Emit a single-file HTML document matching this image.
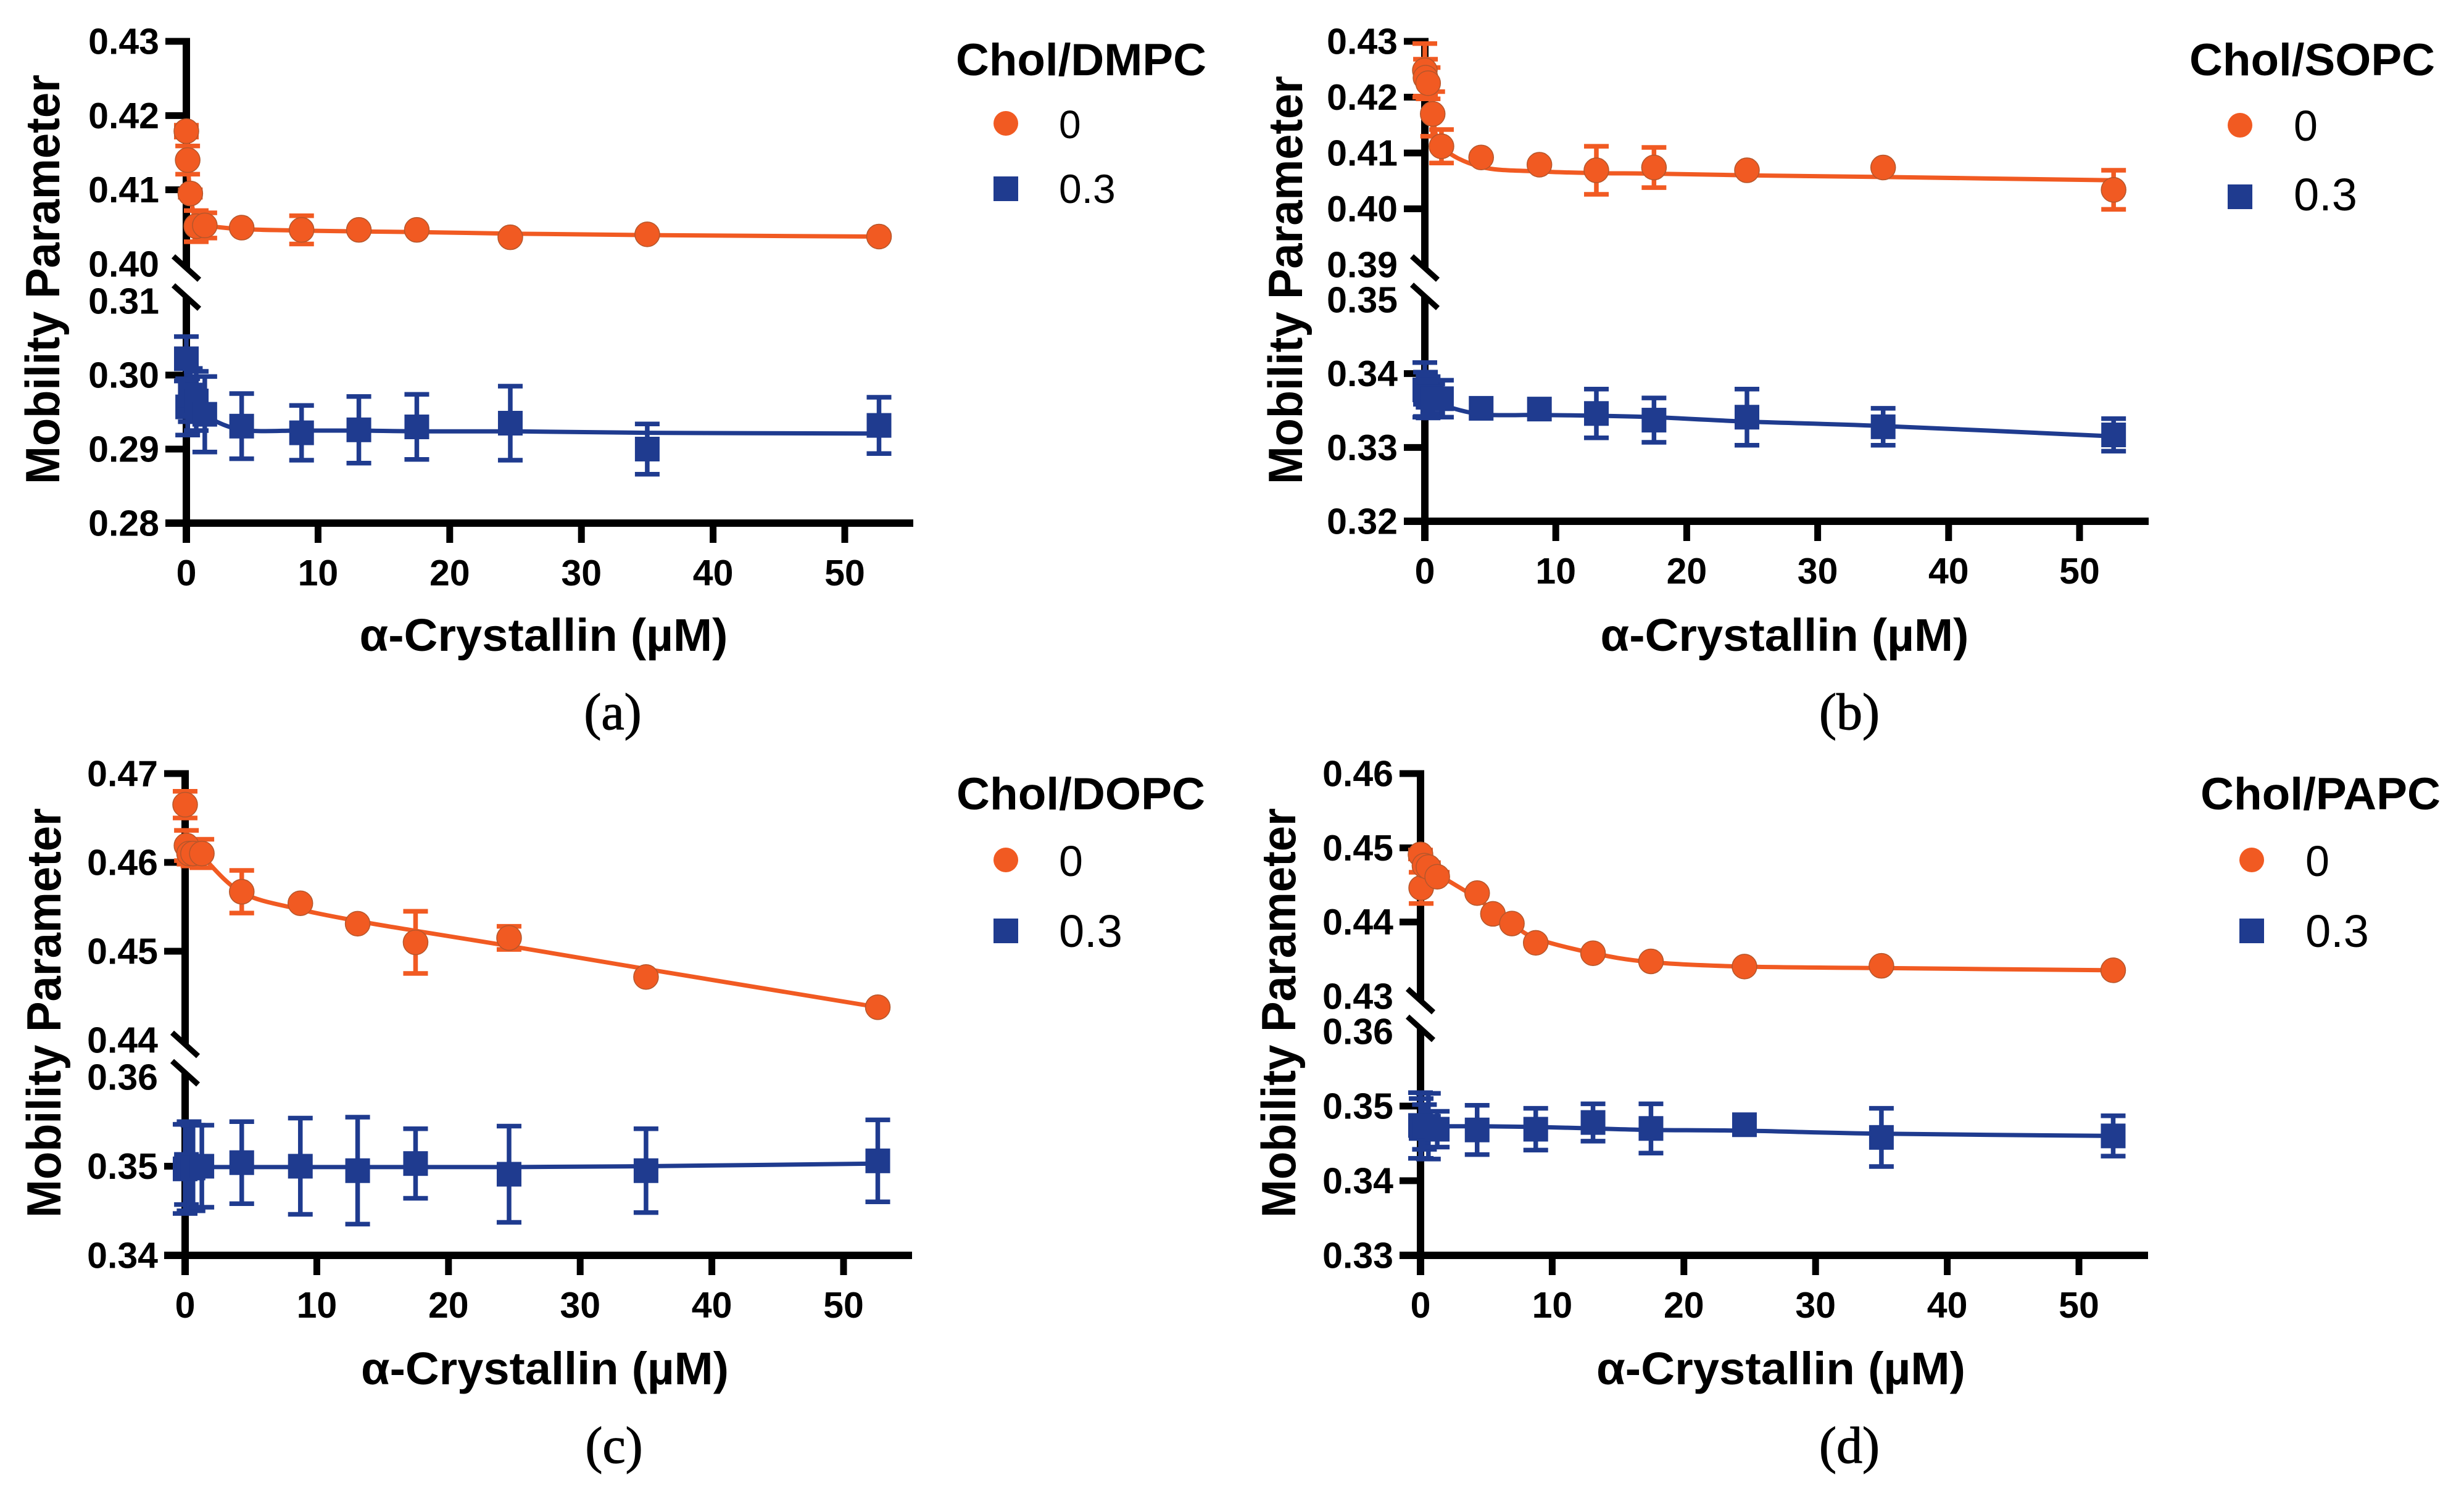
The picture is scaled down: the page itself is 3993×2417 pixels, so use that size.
<!DOCTYPE html>
<html lang="en">
<head>
<meta charset="utf-8">
<title>Mobility Parameter vs α-Crystallin</title>
<style>
html,body{margin:0;padding:0;background:#fff;}
body{width:3993px;height:2417px;overflow:hidden;}
svg{display:block;}
text{font-family:"Liberation Sans",Arial,sans-serif;fill:#000;}
.ytitle,.xtitle,.legtitle,.tick{font-weight:bold;}
.ytitle{font-size:78px;}
.xtitle{font-size:74px;}
.legtitle{font-size:73px;}
.tick{font-size:59px;}
.cap{font-family:"Liberation Serif",serif;font-size:84px;stroke:#000;stroke-width:1.2px;}
</style>
</head>
<body>
<svg id="figure" width="3993" height="2417" viewBox="0 0 3993 2417" xmlns="http://www.w3.org/2000/svg">
  <rect x="0" y="0" width="3993" height="2417" fill="#fff"/>

  <g id="static-text">
    <text class="ytitle" transform="translate(96,453) rotate(-90)" text-anchor="middle" textLength="664" lengthAdjust="spacingAndGlyphs">Mobility Parameter</text>
    <text class="ytitle" transform="translate(2110,454) rotate(-90)" text-anchor="middle" textLength="662" lengthAdjust="spacingAndGlyphs">Mobility Parameter</text>
    <text class="ytitle" transform="translate(98,1642) rotate(-90)" text-anchor="middle" textLength="664" lengthAdjust="spacingAndGlyphs">Mobility Parameter</text>
    <text class="ytitle" transform="translate(2099,1642) rotate(-90)" text-anchor="middle" textLength="664" lengthAdjust="spacingAndGlyphs">Mobility Parameter</text>

    <text class="xtitle" x="881" y="1055" text-anchor="middle" textLength="597" lengthAdjust="spacingAndGlyphs">α-Crystallin (µM)</text>
    <text class="xtitle" x="2892" y="1055" text-anchor="middle" textLength="597" lengthAdjust="spacingAndGlyphs">α-Crystallin (µM)</text>
    <text class="xtitle" x="883" y="2244" text-anchor="middle" textLength="596" lengthAdjust="spacingAndGlyphs">α-Crystallin (µM)</text>
    <text class="xtitle" x="2886" y="2244" text-anchor="middle" textLength="598" lengthAdjust="spacingAndGlyphs">α-Crystallin (µM)</text>

    <text class="legtitle" x="1549" y="122" textLength="406" lengthAdjust="spacingAndGlyphs">Chol/DMPC</text>
    <circle cx="1630" cy="200" r="20" fill="#F15A22"/>
    <text x="1716" y="224" font-size="64">0</text>
    <rect x="1610" y="286" width="40" height="40" fill="#1F3B8F"/>
    <text x="1716" y="329" font-size="66">0.3</text>

    <text class="legtitle" x="3548" y="122" textLength="398" lengthAdjust="spacingAndGlyphs">Chol/SOPC</text>
    <circle cx="3630" cy="203" r="20" fill="#F15A22"/>
    <text x="3717" y="228" font-size="70">0</text>
    <rect x="3610" y="299" width="40" height="40" fill="#1F3B8F"/>
    <text x="3717" y="341" font-size="74">0.3</text>

    <text class="legtitle" x="1550" y="1312" textLength="403" lengthAdjust="spacingAndGlyphs">Chol/DOPC</text>
    <circle cx="1630" cy="1394" r="20" fill="#F15A22"/>
    <text x="1716" y="1420" font-size="70">0</text>
    <rect x="1610" y="1489" width="40" height="40" fill="#1F3B8F"/>
    <text x="1716" y="1535" font-size="74">0.3</text>

    <text class="legtitle" x="3566" y="1312" textLength="389" lengthAdjust="spacingAndGlyphs">Chol/PAPC</text>
    <circle cx="3649" cy="1394" r="20" fill="#F15A22"/>
    <text x="3736" y="1420" font-size="70">0</text>
    <rect x="3629" y="1489" width="40" height="40" fill="#1F3B8F"/>
    <text x="3736" y="1535" font-size="74">0.3</text>

    <text class="cap" x="993" y="1182" text-anchor="middle">(a)</text>
    <text class="cap" x="2997" y="1182" text-anchor="middle">(b)</text>
    <text class="cap" x="995" y="2371" text-anchor="middle">(c)</text>
    <text class="cap" x="2997" y="2371" text-anchor="middle">(d)</text>
  </g>
</svg>

<script>
// ---- shared category data ----
const xTickLabels = ['0', '10', '20', '30', '40', '50'];
const concA = [0, 0.1, 0.3, 0.75, 1.4, 4.2, 8.75, 13.1, 17.5, 24.6, 35, 52.6];
const concB = [0, 0.05, 0.25, 0.6, 1.27, 4.3, 8.75, 13.1, 17.5, 24.6, 35, 52.6];
const concC = [0, 0.1, 0.3, 0.6, 1.27, 4.3, 8.75, 13.1, 17.5, 24.6, 35, 52.6];
const concD = [0, 0.05, 0.3, 0.6, 1.27, 4.3, 8.75, 13.1, 17.5, 24.6, 35, 52.6];
const concDZero = [0, 0.05, 0.3, 0.6, 1.27, 4.3, 5.5, 6.94, 8.75, 13.1, 17.5, 24.6, 35, 52.6];

// ---- panel a: Chol/DMPC ----
const dmpcUpperTicks = ['0.40', '0.41', '0.42', '0.43'];
const dmpcLowerTicks = ['0.28', '0.29', '0.30', '0.31'];
const dmpcZeroY = [0.4179, 0.4140, 0.4095, 0.4051, 0.4052, 0.4049, 0.4046, 0.4046, 0.4046, 0.4036, 0.4040, 0.4037];
const dmpcZeroErr = [0.0008, 0.0019, 0.0005, 0.0021, 0.0017, 0, 0.0019, 0, 0, 0, 0, 0];
const dmpcZeroFit = [0.4179, 0.4140, 0.4095, 0.4056, 0.4052, 0.4047, 0.4045, 0.4044, 0.4043, 0.4041, 0.4039, 0.4037];
const dmpcCholY = [0.3022, 0.2957, 0.2973, 0.2965, 0.2947, 0.2931, 0.2922, 0.2926, 0.2930, 0.2935, 0.2900, 0.2932];
const dmpcCholErr = [0.0030, 0.0038, 0.0036, 0.0040, 0.0051, 0.0044, 0.0037, 0.0045, 0.0044, 0.0050, 0.0034, 0.0038];
const dmpcCholFit = [0.2985, 0.2975, 0.2965, 0.2955, 0.2945, 0.2926, 0.2925, 0.2925, 0.2924, 0.2924, 0.2922, 0.2921];

// ---- panel b: Chol/SOPC ----
const sopcUpperTicks = ['0.39', '0.40', '0.41', '0.42', '0.43'];
const sopcLowerTicks = ['0.32', '0.33', '0.34', '0.35'];
const sopcZeroY = [0.4248, 0.4235, 0.4225, 0.4170, 0.4112, 0.4092, 0.4079, 0.4069, 0.4074, 0.4069, 0.4074, 0.4034];
const sopcZeroErr = [0.0048, 0.0033, 0.0028, 0.0040, 0.0030, 0, 0, 0.0043, 0.0036, 0, 0, 0.0035];
const sopcZeroFit = [0.4250, 0.4238, 0.4225, 0.4172, 0.4112, 0.4075, 0.4067, 0.4064, 0.4063, 0.4060, 0.4057, 0.4051];
const sopcCholY = [0.3378, 0.3372, 0.3368, 0.3366, 0.3366, 0.3353, 0.3352, 0.3346, 0.3337, 0.3341, 0.3328, 0.3317];
const sopcCholErr = [0.0037, 0.0030, 0.0028, 0.0020, 0.0025, 0, 0, 0.0033, 0.0030, 0.0038, 0.0025, 0.0022];
const sopcCholFit = [0.3378, 0.3374, 0.3370, 0.3366, 0.3358, 0.3345, 0.3344, 0.3343, 0.3341, 0.3335, 0.3329, 0.3315];

// ---- panel c: Chol/DOPC ----
const dopcUpperTicks = ['0.44', '0.45', '0.46', '0.47'];
const dopcLowerTicks = ['0.34', '0.35', '0.36'];
const dopcZeroY = [0.4665, 0.4619, 0.4610, 0.4610, 0.4610, 0.4567, 0.4554, 0.4531, 0.4510, 0.4515, 0.4471, 0.4437];
const dopcZeroErr = [0.0015, 0.0017, 0.0012, 0.0014, 0.0016, 0.0024, 0, 0, 0.0035, 0.0013, 0, 0];
const dopcZeroFit = [0.4625, 0.4622, 0.4618, 0.4613, 0.4607, 0.4566, 0.4547, 0.4534, 0.4523, 0.4506, 0.4480, 0.4437];
const dopcCholY = [0.3497, 0.3502, 0.3500, 0.3498, 0.3500, 0.3504, 0.3500, 0.3495, 0.3503, 0.3491, 0.3495, 0.3506];
const dopcCholErr = [0.0050, 0.0045, 0.0050, 0.0048, 0.0046, 0.0046, 0.0054, 0.0060, 0.0039, 0.0054, 0.0047, 0.0046];
const dopcCholFit = [0.3499, 0.3499, 0.3499, 0.3499, 0.3499, 0.3499, 0.3499, 0.3499, 0.3499, 0.3499, 0.3500, 0.3503];

// ---- panel d: Chol/PAPC ----
const papcUpperTicks = ['0.43', '0.44', '0.45', '0.46'];
const papcLowerTicks = ['0.33', '0.34', '0.35', '0.36'];
const papcZeroY = [0.4491, 0.4446, 0.4476, 0.4474, 0.4461, 0.4439, 0.4411, 0.4398, 0.4372, 0.4358, 0.4347, 0.4340, 0.4341, 0.4335];
const papcZeroErr = [0.0006, 0.0021, 0.0008, 0.0006, 0.0006, 0, 0, 0, 0, 0, 0, 0, 0, 0];
const papcZeroFit = [0.4492, 0.4490, 0.4484, 0.4477, 0.4465, 0.4432, 0.4415, 0.4398, 0.4378, 0.4358, 0.4346, 0.4340, 0.4338, 0.4335];
const papcCholY = [0.3474, 0.3470, 0.3472, 0.3473, 0.3469, 0.3468, 0.3469, 0.3478, 0.3470, 0.3475, 0.3458, 0.3460];
const papcCholErr = [0.0044, 0.0040, 0.0030, 0.0044, 0.0024, 0.0033, 0.0028, 0.0025, 0.0033, 0, 0.0039, 0.0027];
const papcCholFit = [0.3474, 0.3474, 0.3473, 0.3473, 0.3473, 0.3473, 0.3472, 0.3470, 0.3468, 0.3467, 0.3463, 0.3460];

// ---- panel layout (axis anchors only; no data) ----
const panels = [
  {id: 'a', x0: 302, unit: 21.34, xEnd: 1480, base: 848, topY: 67, upperLowY: 428, lowerTopY: 488,
   breakUp: 434.5, breakLo: 481.5,
   upper: dmpcUpperTicks, lower: dmpcLowerTicks,
   zeroX: concA, zeroY: dmpcZeroY, zeroErr: dmpcZeroErr, zeroFit: dmpcZeroFit,
   cholX: concA, cholY: dmpcCholY, cholErr: dmpcCholErr, cholFit: dmpcCholFit},
  {id: 'b', x0: 2309, unit: 21.22, xEnd: 3482, base: 845, topY: 67, upperLowY: 429, lowerTopY: 486,
   breakUp: 434.5, breakLo: 480.5,
   upper: sopcUpperTicks, lower: sopcLowerTicks,
   zeroX: concB, zeroY: sopcZeroY, zeroErr: sopcZeroErr, zeroFit: sopcZeroFit,
   cholX: concB, cholY: sopcCholY, cholErr: sopcCholErr, cholFit: sopcCholFit},
  {id: 'c', x0: 300, unit: 21.34, xEnd: 1478, base: 2035, topY: 1254, upperLowY: 1686, lowerTopY: 1746,
   breakUp: 1693, breakLo: 1739,
   upper: dopcUpperTicks, lower: dopcLowerTicks,
   zeroX: concC, zeroY: dopcZeroY, zeroErr: dopcZeroErr, zeroFit: dopcZeroFit,
   cholX: concC, cholY: dopcCholY, cholErr: dopcCholErr, cholFit: dopcCholFit},
  {id: 'd', x0: 2302, unit: 21.34, xEnd: 3481, base: 2035, topY: 1254, upperLowY: 1615, lowerTopY: 1672,
   breakUp: 1622, breakLo: 1667,
   upper: papcUpperTicks, lower: papcLowerTicks,
   zeroX: concDZero, zeroY: papcZeroY, zeroErr: papcZeroErr, zeroFit: papcZeroFit,
   cholX: concD, cholY: papcCholY, cholErr: papcCholErr, cholFit: papcCholFit}
];

const SVGNS = 'http://www.w3.org/2000/svg';
const svgRoot = document.getElementById('figure');
const COLOR_ZERO = '#F15A22';
const COLOR_CHOL = '#1F3B8F';

function make(parent, tag, attrs) {
  const el = document.createElementNS(SVGNS, tag);
  for (const k in attrs) el.setAttribute(k, attrs[k]);
  parent.appendChild(el);
  return el;
}
function linearScale(d0, d1, r0, r1) {
  return v => r0 + (v - d0) * (r1 - r0) / (d1 - d0);
}
function smoothPath(px, py) {
  let d = 'M' + px[0].toFixed(1) + ' ' + py[0].toFixed(1);
  for (let i = 0; i < px.length - 1; i++) {
    const p0x = px[Math.max(i - 1, 0)], p0y = py[Math.max(i - 1, 0)];
    const p1x = px[i], p1y = py[i], p2x = px[i + 1], p2y = py[i + 1];
    const p3x = px[Math.min(i + 2, px.length - 1)], p3y = py[Math.min(i + 2, px.length - 1)];
    const c1x = p1x + (p2x - p0x) / 6, c1y = p1y + (p2y - p0y) / 6;
    const c2x = p2x - (p3x - p1x) / 6, c2y = p2y - (p3y - p1y) / 6;
    d += 'C' + c1x.toFixed(1) + ' ' + c1y.toFixed(1) + ' ' + c2x.toFixed(1) + ' ' + c2y.toFixed(1) + ' ' + p2x.toFixed(1) + ' ' + p2y.toFixed(1);
  }
  return d;
}

function drawSeries(g, p, label, color, xs, ys, errs, fit, xScale, yScale, isCircle) {
  const sg = make(g, 'g', {});
  
  
  xs.forEach((v, i) => {
    if (!errs[i]) return;
    const cx = xScale(v), hi = yScale(ys[i] + errs[i]), lo = yScale(ys[i] - errs[i]);
    const eb = make(sg, 'path', {
      d: 'M' + cx + ' ' + hi + 'V' + lo + 'M' + (cx - 20) + ' ' + hi + 'H' + (cx + 20) + 'M' + (cx - 20) + ' ' + lo + 'H' + (cx + 20),
      stroke: color, 'stroke-width': 7.5, fill: 'none'
    });
    
    
  });
  const line = make(sg, 'path', {
    d: smoothPath(xs.map(xScale), fit.map(yScale)),
    stroke: color, 'stroke-width': 7, fill: 'none', 'stroke-linejoin': 'round'
  });
  
  
  xs.forEach((v, i) => {
    const cx = xScale(v), cy = yScale(ys[i]);
    let m;
    if (isCircle) {
      m = make(sg, 'circle', {cx: cx, cy: cy, r: 20, fill: color, stroke: '#B5562B', 'stroke-width': 1.5});
    } else {
      m = make(sg, 'rect', {x: cx - 20, y: cy - 20, width: 40, height: 40, fill: color});
    }
    
    
  });
}

panels.forEach(p => {
  const g = make(svgRoot, 'g', {});
  
  

  const xScale = v => p.x0 + v * p.unit;
  const upperVals = p.upper.map(Number), lowerVals = p.lower.map(Number);
  const yUpper = linearScale(upperVals[0], upperVals[upperVals.length - 1], p.upperLowY, p.topY);
  const yLower = linearScale(lowerVals[0], lowerVals[lowerVals.length - 1], p.base, p.lowerTopY);

  const axis = make(g, 'g', {stroke: '#000', fill: 'none'});
  
  

  const upSeg = make(axis, 'path', {d: 'M' + p.x0 + ' ' + (p.topY - 5.5) + 'V' + p.breakUp, 'stroke-width': 12});
  
  
  const loSeg = make(axis, 'path', {d: 'M' + p.x0 + ' ' + p.breakLo + 'V' + (p.base + 32), 'stroke-width': 12});
  
  
  const xLine = make(axis, 'path', {d: 'M' + (p.x0 - 34) + ' ' + p.base + 'H' + p.xEnd, 'stroke-width': 12});
  
  

  [p.breakUp, p.breakLo].forEach(by => {
    const br = make(axis, 'path', {
      d: 'M' + (p.x0 - 21) + ' ' + (by - 19) + 'L' + (p.x0 + 21) + ' ' + (by + 19),
      'stroke-width': 9
    });
    
    
  });

  function yTick(label, y, withMark) {
    if (withMark) {
      const t = make(axis, 'path', {d: 'M' + (p.x0 - 34) + ' ' + y + 'H' + p.x0, 'stroke-width': 11});
      
      
    }
    const tl = make(g, 'text', {x: p.x0 - 44, y: y + 20.5, 'text-anchor': 'end', 'class': 'tick'});
    tl.textContent = label;
    
    
  }
  p.upper.forEach((lab, i) => yTick(lab, yUpper(upperVals[i]), i !== 0));
  p.lower.forEach((lab, i) => yTick(lab, yLower(lowerVals[i]), i !== 0 && i !== p.lower.length - 1));

  xTickLabels.forEach(lab => {
    const x = xScale(Number(lab));
    if (lab !== '0') {
      const t = make(axis, 'path', {d: 'M' + x + ' ' + p.base + 'V' + (p.base + 32), 'stroke-width': 11});
      
      
    }
    const tl = make(g, 'text', {x: x, y: p.base + 101, 'text-anchor': 'middle', 'class': 'tick'});
    tl.textContent = lab;
    
    
  });

  drawSeries(g, p, 'chol-0', COLOR_ZERO, p.zeroX, p.zeroY, p.zeroErr, p.zeroFit, xScale, yUpper, true);
  drawSeries(g, p, 'chol-0-3', COLOR_CHOL, p.cholX, p.cholY, p.cholErr, p.cholFit, xScale, yLower, false);
});
</script>
</body>
</html>
